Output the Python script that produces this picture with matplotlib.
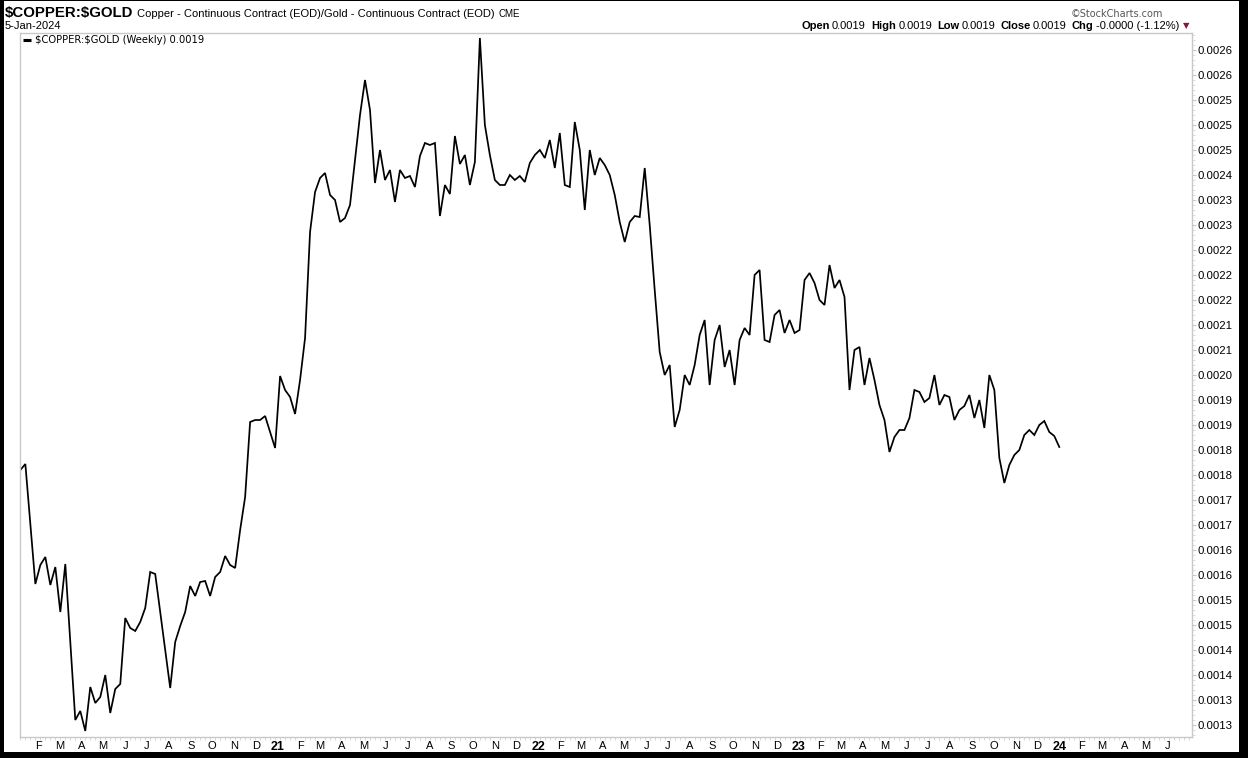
import numpy as np
import pandas as pd
import matplotlib
matplotlib.use("Agg")
import matplotlib.pyplot as plt
import matplotlib.dates as mdates
from matplotlib.patches import Rectangle
from matplotlib.ticker import FixedLocator, FixedFormatter

# ---------------- data ----------------
end_date = "2024-01-05"
ratio = [
    0.00180, 0.001812, 0.001692, 0.001572, 0.00161, 0.001626, 0.00157, 0.001606, 0.001516, 0.001612,
    0.001456, 0.00130, 0.001318, 0.001278, 0.001366, 0.001334, 0.001346, 0.00139, 0.001314, 0.001362,
    0.001372, 0.001504, 0.001484, 0.001478, 0.001496, 0.001524, 0.001596, 0.001592, 0.001516, 0.00144,
    0.001364, 0.001456, 0.001488, 0.001516, 0.001568, 0.001548, 0.001576, 0.001578, 0.001548, 0.001586,
    0.001596, 0.001628, 0.00161, 0.001604, 0.00168, 0.001746, 0.001896, 0.00190, 0.00190, 0.001908,
    0.001876, 0.001844, 0.001988, 0.00196, 0.001946, 0.001912, 0.00198, 0.002064, 0.002276, 0.002356,
    0.002384, 0.002394, 0.00235, 0.00234, 0.002296, 0.002304, 0.00233, 0.00242, 0.00251, 0.00258,
    0.00252, 0.002374, 0.00244, 0.00238, 0.00240, 0.002336, 0.00240, 0.002384, 0.002388, 0.002366,
    0.002428, 0.002454, 0.00245, 0.002454, 0.002308, 0.00237, 0.002352, 0.002468, 0.002412, 0.00243,
    0.00237, 0.002416, 0.002664, 0.00249, 0.00243, 0.00238, 0.00237, 0.00237, 0.00239, 0.00238,
    0.002388, 0.002376, 0.002414, 0.00243, 0.00244, 0.002424, 0.00246, 0.002404, 0.002474, 0.00237,
    0.002366, 0.002496, 0.00244, 0.00232, 0.00244, 0.00239, 0.002424, 0.00241, 0.00239, 0.00235,
    0.002296, 0.002256, 0.002296, 0.002308, 0.002306, 0.002404, 0.00229, 0.00216, 0.002036, 0.00199,
    0.00201, 0.001886, 0.00192, 0.00199, 0.00197, 0.00201, 0.00207, 0.00210, 0.00197, 0.00206,
    0.00209, 0.002006, 0.00204, 0.00197, 0.00206, 0.002084, 0.00207, 0.00219, 0.00220, 0.00206,
    0.002056, 0.00211, 0.00212, 0.002074, 0.00210, 0.002074, 0.00208, 0.00218, 0.002194, 0.002174,
    0.00214, 0.00213, 0.00221, 0.002164, 0.00218, 0.002146, 0.00196, 0.00204, 0.002046, 0.00197,
    0.002024, 0.00198, 0.00193, 0.00190, 0.001836, 0.001866, 0.00188, 0.00188, 0.001904, 0.00196,
    0.001956, 0.001936, 0.001944, 0.00199, 0.00193, 0.00195, 0.001946, 0.00190, 0.00192, 0.001928,
    0.00195, 0.001904, 0.00194, 0.001884, 0.00199, 0.00196, 0.001824, 0.001774, 0.00181, 0.00183,
    0.00184, 0.00187, 0.00188, 0.00187, 0.00189, 0.001898, 0.001876, 0.001868, 0.001846,
]
y_tick_values = [0.00129 + 0.00005 * k for k in range(28)]
y_tick_labels = ["0.0013", "0.0013", "0.0014", "0.0014", "0.0015", "0.0015", "0.0016", "0.0016",
                 "0.0017", "0.0017", "0.0018", "0.0018", "0.0019", "0.0019", "0.0020", "0.0021",
                 "0.0021", "0.0022", "0.0022", "0.0022", "0.0023", "0.0023", "0.0024", "0.0025",
                 "0.0025", "0.0025", "0.0026", "0.0026"]
month_letters = ["J", "F", "M", "A", "M", "J", "J", "A", "S", "O", "N", "D"]
title_symbol = "$COPPER:$GOLD"
title_desc = "Copper - Continuous Contract (EOD)/Gold - Continuous Contract (EOD)"
exchange = "CME"
date_text = "5-Jan-2024"
legend_text = "$COPPER:$GOLD (Weekly) 0.0019"
ohlc = [("Open", "0.0019"), ("High", "0.0019"), ("Low", "0.0019"), ("Close", "0.0019"),
        ("Chg", "-0.0000 (-1.12%)")]

dates = pd.date_range(end=end_date, periods=len(ratio), freq="W-FRI")

# ---------------- figure ----------------
W, H = 1248, 758
fig = plt.figure(figsize=(W / 100, H / 100), dpi=100)
fig.patch.set_facecolor("white")

def px_rect(x0, y0, x1, y1, color="black"):
    fig.patches.append(Rectangle((x0 / W, 1 - y1 / H), (x1 - x0) / W, (y1 - y0) / H,
                                 transform=fig.transFigure, facecolor=color, edgecolor="none",
                                 zorder=10))

# outer black frame
px_rect(0, 0, 4, H)
px_rect(0, 0, W, 1)
px_rect(1239, 0, W, H)
px_rect(0, 752, W, H)

ax_l, ax_r, ax_t, ax_b = 20, 1192, 33, 737
ax = fig.add_axes([ax_l / W, 1 - ax_b / H, (ax_r - ax_l) / W, (ax_b - ax_t) / H])
ax.plot(dates, ratio, color="black", lw=1.25, solid_joinstyle="miter")

xl = dates[0] - pd.Timedelta(days=0.5)
xr = dates[-1] + pd.Timedelta(days=186)
ax.set_xlim(xl, xr)
ax.set_ylim(0.001266, 0.002674)

for s in ax.spines.values():
    s.set_color("#c8c8c8")
    s.set_linewidth(1.0)

# y axis on the right
ax.yaxis.tick_right()
ax.yaxis.set_major_locator(FixedLocator(y_tick_values))
ax.yaxis.set_major_formatter(FixedFormatter(y_tick_labels))
minor_y = [y_tick_values[0] + 0.00001 * j for j in range(-3, 140)]
ax.yaxis.set_minor_locator(FixedLocator(minor_y))
ax.tick_params(axis="y", which="major", length=3, color="#c8c8c8", labelsize=8.2,
               pad=1.2, labelcolor="black")
ax.tick_params(axis="y", which="minor", length=2, color="#d8d8d8", width=0.6)

# x axis month labels
months = pd.date_range("2020-02-01", "2024-06-01", freq="MS")
tick_pos = [m + pd.Timedelta(days=4) for m in months]
tick_lab = [("%02d" % (m.year % 100)) if m.month == 1 else month_letters[m.month - 1] for m in months]
ax.xaxis.set_major_locator(FixedLocator(mdates.date2num(tick_pos)))
ax.xaxis.set_major_formatter(FixedFormatter(tick_lab))
weeks = pd.date_range(dates[0], xr, freq="W-FRI")
ax.xaxis.set_minor_locator(FixedLocator(mdates.date2num(weeks)))
ax.tick_params(axis="x", which="major", length=0, labelsize=8, pad=3.2)
ax.tick_params(axis="x", which="minor", length=2, color="#d0d0d0", width=0.6)
for lab, m in zip(ax.get_xticklabels(), months):
    if m.month == 1:
        lab.set_fontweight("bold")
        lab.set_fontsize(9)
for lab in ax.get_xticklabels() + ax.get_yticklabels():
    lab.set_fontfamily(["Liberation Sans", "DejaVu Sans"])

# ---------------- header texts ----------------
def fx(x):
    return x / W

def fy(y):
    return 1 - y / H

t1 = fig.text(fx(5), fy(13), title_symbol, fontsize=10.8, fontweight="bold",
              family=["Liberation Sans", "DejaVu Sans"], va="center", ha="left",
              parse_math=False)
fig.canvas.draw()
r = fig.canvas.get_renderer()
bb = t1.get_window_extent(r)
t2 = fig.text(bb.x1 / W + fx(4), fy(14), title_desc, fontsize=8,
              family=["Liberation Sans", "DejaVu Sans"], va="center", ha="left")
bb2 = t2.get_window_extent(r)
fig.text(bb2.x1 / W + fx(4), fy(14), exchange, fontsize=7,
         family=["Liberation Sans", "DejaVu Sans"], va="center", ha="left")
fig.text(fx(5), fy(26), date_text, fontsize=8, family=["Liberation Sans", "DejaVu Sans"],
         va="center", ha="left")

fig.text(fx(1163), fy(14), "\u00a9StockCharts.com", fontsize=7, color="#555555",
         family=["DejaVu Sans"], va="center", ha="right")

x = 801.0
for i, (name, val) in enumerate(ohlc):
    tn = fig.text(fx(x), fy(26), name, fontsize=8, fontweight="bold",
                  family=["Liberation Sans", "DejaVu Sans"], va="center", ha="left")
    e = tn.get_window_extent(r)
    x = e.x1 + 2.5
    tv = fig.text(fx(x), fy(26), val, fontsize=8,
                  family=["Liberation Sans", "DejaVu Sans"], va="center", ha="left")
    e = tv.get_window_extent(r)
    x = e.x1 + 5
fig.text(fx(x - 1), fy(26), "\u25bc", fontsize=6, color="#8b1538", family=["DejaVu Sans"],
         va="center", ha="left")

# legend inside axes
ax.plot([0.0025, 0.009], [0.990, 0.990], transform=ax.transAxes, color="black", lw=2.2,
        solid_capstyle="butt")
ax.text(0.013, 0.990, legend_text, transform=ax.transAxes, fontsize=7.2,
        family=["DejaVu Sans"], va="center", ha="left", parse_math=False)

fig.savefig("out.png", dpi=100, facecolor="white")
